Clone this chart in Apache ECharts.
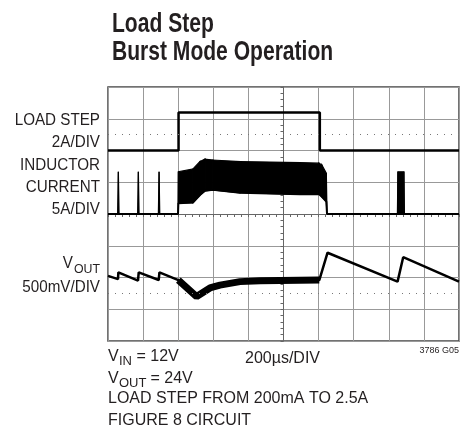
<!DOCTYPE html>
<html>
<head>
<meta charset="utf-8">
<script src="https://cdn.jsdelivr.net/npm/echarts@6/dist/echarts.min.js"></script>
<style>
html, body { margin: 0; padding: 0; background: #fff; }
#chart { width: 474px; height: 445px; }
</style>
</head>
<body>
<div id="chart"></div>
<script>
// scope screen: time in µs from screen centre (200µs/DIV), amplitude in divisions from centre
var loadT = [-1000, -598, -598, 207, 207, 1000];
var loadV = [2.0, 2.0, 3.2, 3.2, 2.0, 2.0];

var ilT    = [-1000, -945, -941, -937, -831, -827, -823, -713, -709, -705, -601, -599, -516, -476, -447, -402, -248, 94, 202, 219, 244, 248, 649, 652, 686, 689, 1000];
var ilLow  = [0, 0, 0, 0, 0, 0, 0, 0, 0, 0, 0, 0.34, 0.36, 0.60, 0.73, 0.76, 0.67, 0.62, 0.63, 0.54, 0.39, 0, 0, 0, 0, 0, 0];
var ilHigh = [0, 0, 1.33, 0, 0, 1.33, 0, 0, 1.33, 0, 0, 1.33, 1.42, 1.65, 1.73, 1.70, 1.65, 1.62, 1.60, 1.54, 1.29, 0, 0, 1.33, 1.33, 0, 0];

var voutT = [-1000, -943, -941, -829, -825, -711, -707, -599, -495, -419, -362, -248, -134, 204, 251, 650, 682, 1000];
var voutV = [-1.95, -2.05, -1.84, -2.10, -1.84, -2.08, -1.84, -2.08, -2.6, -2.33, -2.24, -2.13, -2.10, -2.08, -1.22, -2.13, -1.36, -2.13];

var markerLevels = [2.5, -2.5];

var dom = document.getElementById('chart');
var myChart = echarts.init(dom, null, { renderer: 'canvas' });

var textFont = '"Liberation Sans", Arial, sans-serif';
var ink = '#231f20';

function pairs(t, v) {
    return t.map(function (x, i) { return [x, v[i]]; });
}
var ilData = ilT.map(function (x, i) { return [x, ilLow[i], ilHigh[i]]; });
var voutRipple = pairs(voutT, voutV).filter(function (p) { return p[0] >= -600 && p[0] <= 205; });

function label(text, x, y, size, align, sx) {
    return {
        type: 'text',
        x: x, y: y, scaleX: sx || 1,
        style: {
            text: text, x: 0, y: 0, fill: ink,
            font: size + 'px ' + textFont,
            align: align || 'left', verticalAlign: 'middle'
        }
    };
}

function title(text, y) {
    return {
        type: 'text',
        x: 112, y: y, scaleX: 0.78,
        style: { text: text, x: 0, y: 0, fill: ink, font: 'bold 27px ' + textFont, verticalAlign: 'middle' }
    };
}

// band between low and high envelope, segment by segment
function renderBand(params, api) {
    var i = params.dataIndex;
    if (i >= ilT.length - 1) return null;
    var pts = [
        api.coord([api.value(0), api.value(1)]),
        api.coord([api.value(0), api.value(2)]),
        api.coord([ilT[i + 1], ilHigh[i + 1]]),
        api.coord([ilT[i + 1], ilLow[i + 1]])
    ];
    return {
        type: 'polygon',
        shape: { points: pts },
        style: { fill: '#000', stroke: '#000', lineWidth: 1.2 }
    };
}

var axisCommon = {
    type: 'value',
    axisLine: { onZero: true, lineStyle: { color: '#666', width: 1 } },
    axisTick: { show: true, length: 3, lineStyle: { color: '#666' } },
    minorTick: { show: true, splitNumber: 5, length: 3, lineStyle: { color: '#666' } },
    axisLabel: { show: false },
    splitLine: { show: true, lineStyle: { color: '#999', width: 1 } }
};

var option = {
    backgroundColor: '#fff',
    animation: false,
    grid: {
        left: 108, top: 87, width: 351, height: 254,
        show: true, borderColor: '#444', borderWidth: 1.5
    },
    xAxis: Object.assign({}, axisCommon, { min: -1000, max: 1000, interval: 200 }),
    yAxis: Object.assign({}, axisCommon, { min: -4, max: 4, interval: 1 }),
    graphic: [
        title('Load Step', 25),
        title('Burst Mode Operation', 52.5),
        label('LOAD STEP', 100, 121, 16, 'right', 0.95),
        label('2A/DIV', 100, 143, 16, 'right', 0.95),
        label('INDUCTOR', 100, 166, 16, 'right', 0.95),
        label('CURRENT', 100, 188, 16, 'right', 0.95),
        label('5A/DIV', 100, 210, 16, 'right', 0.95),
        label('V', 73, 264, 16, 'right', 0.95),
        label('OUT', 100, 269, 13, 'right', 0.95),
        label('500mV/DIV', 100, 288, 16, 'right', 0.95),
        label('V', 108, 357, 16),
        label('IN', 119, 361.5, 13),
        label(' = 12V', 132, 357, 16),
        label('200µs/DIV', 245, 359, 16),
        label('3786 G05', 459, 351, 9, 'right'),
        label('V', 108, 378.5, 16),
        label('OUT', 119, 383, 13),
        label(' = 24V', 146, 378.5, 16),
        label('LOAD STEP FROM 200mA TO 2.5A', 108, 399, 16),
        label('FIGURE 8 CIRCUIT', 108, 421, 16)
    ],
    series: [
        {
            name: 'Load Step',
            type: 'line',
            data: pairs(loadT, loadV),
            symbol: 'none',
            lineStyle: { color: '#000', width: 2.5 },
            markLine: {
                silent: true,
                symbol: 'none',
                label: { show: false },
                lineStyle: { color: '#777', width: 1, type: [1, 6] },
                data: markerLevels.map(function (v) { return { yAxis: v }; })
            }
        },
        {
            name: 'Inductor Current',
            type: 'line',
            data: pairs(ilT, ilLow),
            symbol: 'none',
            lineStyle: { color: '#000', width: 2 }
        },
        {
            name: 'Inductor Current ripple',
            type: 'custom',
            data: ilData,
            encode: { x: 0, y: [1, 2] },
            renderItem: renderBand
        },
        {
            name: 'VOUT',
            type: 'line',
            data: pairs(voutT, voutV),
            symbol: 'none',
            lineStyle: { color: '#000', width: 2.5 }
        },
        {
            name: 'VOUT ripple',
            type: 'line',
            data: voutRipple,
            symbol: 'none',
            lineStyle: { color: '#000', width: 7 }
        }
    ]
};

if (option && typeof option === 'object') {
    myChart.setOption(option);
}

window.addEventListener('resize', myChart.resize);
</script>
</body>
</html>
